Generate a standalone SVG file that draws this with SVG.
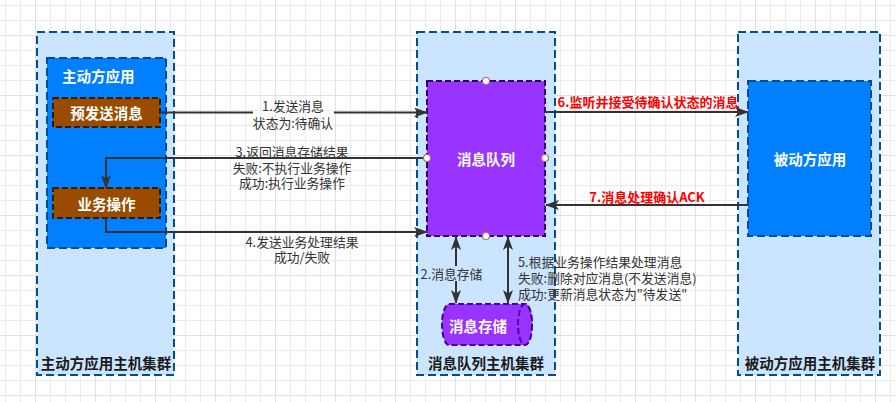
<svg xmlns="http://www.w3.org/2000/svg" width="896" height="402" viewBox="0 0 896 402">
<defs>
<pattern id="grid" patternUnits="userSpaceOnUse" x="35" y="35" width="60" height="60">
<rect x="0" y="0" width="60" height="60" fill="#ffffff"/>
<rect x="15" y="0" width="1" height="60" fill="#ebebeb"/>
<rect x="30" y="0" width="1" height="60" fill="#ebebeb"/>
<rect x="45" y="0" width="1" height="60" fill="#ebebeb"/>
<rect x="0" y="15" width="60" height="1" fill="#ebebeb"/>
<rect x="0" y="30" width="60" height="1" fill="#ebebeb"/>
<rect x="0" y="45" width="60" height="1" fill="#ebebeb"/>
<rect x="0" y="0" width="1" height="60" fill="#e0e0e0"/>
<rect x="0" y="0" width="60" height="1" fill="#e0e0e0"/>
</pattern>
<marker id="arr" viewBox="0 0 14 10" refX="13" refY="5" markerWidth="14" markerHeight="10" orient="auto-start-reverse" markerUnits="userSpaceOnUse">
<path d="M0,0 L14,5 L0,10 L3.5,5 z" fill="#333333"/>
</marker>
<style>
.cluster{fill:#cce5ff;stroke:#004c99;stroke-width:2;stroke-dasharray:8 4}
.app{fill:#007fff;stroke:#004c99;stroke-width:2;stroke-dasharray:8 4}
.step{fill:#994c00;stroke:#331a00;stroke-width:2;stroke-dasharray:6 3}
.queue{fill:#9933ff;stroke:#330066;stroke-width:2;stroke-dasharray:6 3}
.store{fill:#9933ff;stroke:#4c0099;stroke-width:2;stroke-dasharray:6 3}
.pt{fill:#ffffff;stroke:#b36b6b;stroke-width:1.2}
text{font-family:"Noto Sans CJK SC","Microsoft YaHei",sans-serif}
.clabel{font-size:14.5px;font-weight:bold;fill:#1a1a1a;text-anchor:middle;dominant-baseline:central}
.nlabel{font-size:14.5px;font-weight:bold;fill:#ffffff;text-anchor:middle;dominant-baseline:central}
.elabel{font-size:12.8px;fill:#333333;text-anchor:middle;dominant-baseline:central}
.start{text-anchor:start}
.rlabel{font-size:13px;font-weight:bold;fill:#ff0000;text-anchor:middle;dominant-baseline:central}
.edge{fill:none;stroke:#333333;stroke-width:2}
</style>
</defs>
<rect x="0" y="0" width="896" height="402" fill="url(#grid)"/>

<g id="cluster-active">
<rect class="cluster" x="37" y="32" width="137" height="343"/>
<text class="clabel" x="106" y="362">主动方应用主机集群</text>
</g>
<g id="cluster-queue">
<rect class="cluster" x="417" y="32" width="138" height="343"/>
<text class="clabel" x="486" y="362">消息队列主机集群</text>
</g>
<g id="cluster-passive">
<rect class="cluster" x="738" y="32" width="142" height="343"/>
<text class="clabel" x="810" y="362">被动方应用主机集群</text>
</g>

<g id="active-app">
<rect class="app" x="47" y="58" width="119" height="190"/>
<text class="nlabel start" x="62" y="75">主动方应用</text>
</g>
<g id="pre-send">
<rect class="step" x="53" y="98" width="107" height="29"/>
<text class="nlabel" x="106.5" y="112.5">预发送消息</text>
</g>
<g id="business-op">
<rect class="step" x="53" y="188" width="107" height="30"/>
<text class="nlabel" x="106.5" y="203">业务操作</text>
</g>
<g id="message-queue">
<rect class="queue" x="427" y="81" width="118" height="155"/>
<text class="nlabel" x="486" y="158">消息队列</text>
</g>
<g id="message-store">
<path class="store" d="M449,304 H525 A7,20.5 0 0 1 525,345 H449 A7,20.5 0 0 1 449,304 Z"/>
<ellipse class="store" cx="525" cy="324.5" rx="7" ry="20.5"/>
<text class="nlabel" x="478" y="325">消息存储</text>
</g>
<g id="passive-app">
<rect class="app" x="748" y="81" width="123" height="155"/>
<text class="nlabel" x="810" y="158">被动方应用</text>
</g>

<g id="connectors">
<path class="edge" d="M160,112.5 H253"/>
<path class="edge" d="M334,112.5 H427" marker-end="url(#arr)"/>
<text class="elabel"><tspan x="293" y="105">1.发送消息</tspan><tspan x="293" y="122">状态为:待确认</tspan></text>

<path class="edge" d="M427,158 H106 V188" marker-end="url(#arr)"/>
<text class="elabel"><tspan x="292" y="151">3.返回消息存储结果</tspan><tspan x="292" y="166.5">失败:不执行业务操作</tspan><tspan x="292" y="182">成功:执行业务操作</tspan></text>

<path class="edge" d="M106,218 V232 H427" marker-end="url(#arr)"/>
<text class="elabel"><tspan x="302" y="241">4.发送业务处理结果</tspan><tspan x="302" y="256">成功/失败</tspan></text>

<path class="edge" d="M456,237 V303" marker-start="url(#arr)" marker-end="url(#arr)"/>
<rect x="420" y="266" width="63" height="15" fill="#cce5ff"/>
<text class="elabel" x="451.5" y="273.5">2.消息存储</text>

<path class="edge" d="M508,237 V303" marker-start="url(#arr)" marker-end="url(#arr)"/>
<text class="elabel start"><tspan x="518" y="261">5.根据业务操作结果处理消息</tspan><tspan x="518" y="277">失败:删除对应消息(不发送消息)</tspan><tspan x="518" y="293">成功:更新消息状态为"待发送"</tspan></text>

<path class="edge" d="M545,112 H748" marker-end="url(#arr)"/>
<text class="rlabel" x="648" y="101">6.监听并接受待确认状态的消息</text>

<path class="edge" d="M748,205 H546" marker-end="url(#arr)"/>
<text class="rlabel" x="647" y="196">7.消息处理确认ACK</text>

<circle class="pt" cx="486" cy="81" r="3.5"/>
<circle class="pt" cx="427" cy="158" r="3.5"/>
<circle class="pt" cx="545" cy="158" r="3.5"/>
<circle class="pt" cx="486" cy="236" r="3.5"/>
</g>
</svg>
